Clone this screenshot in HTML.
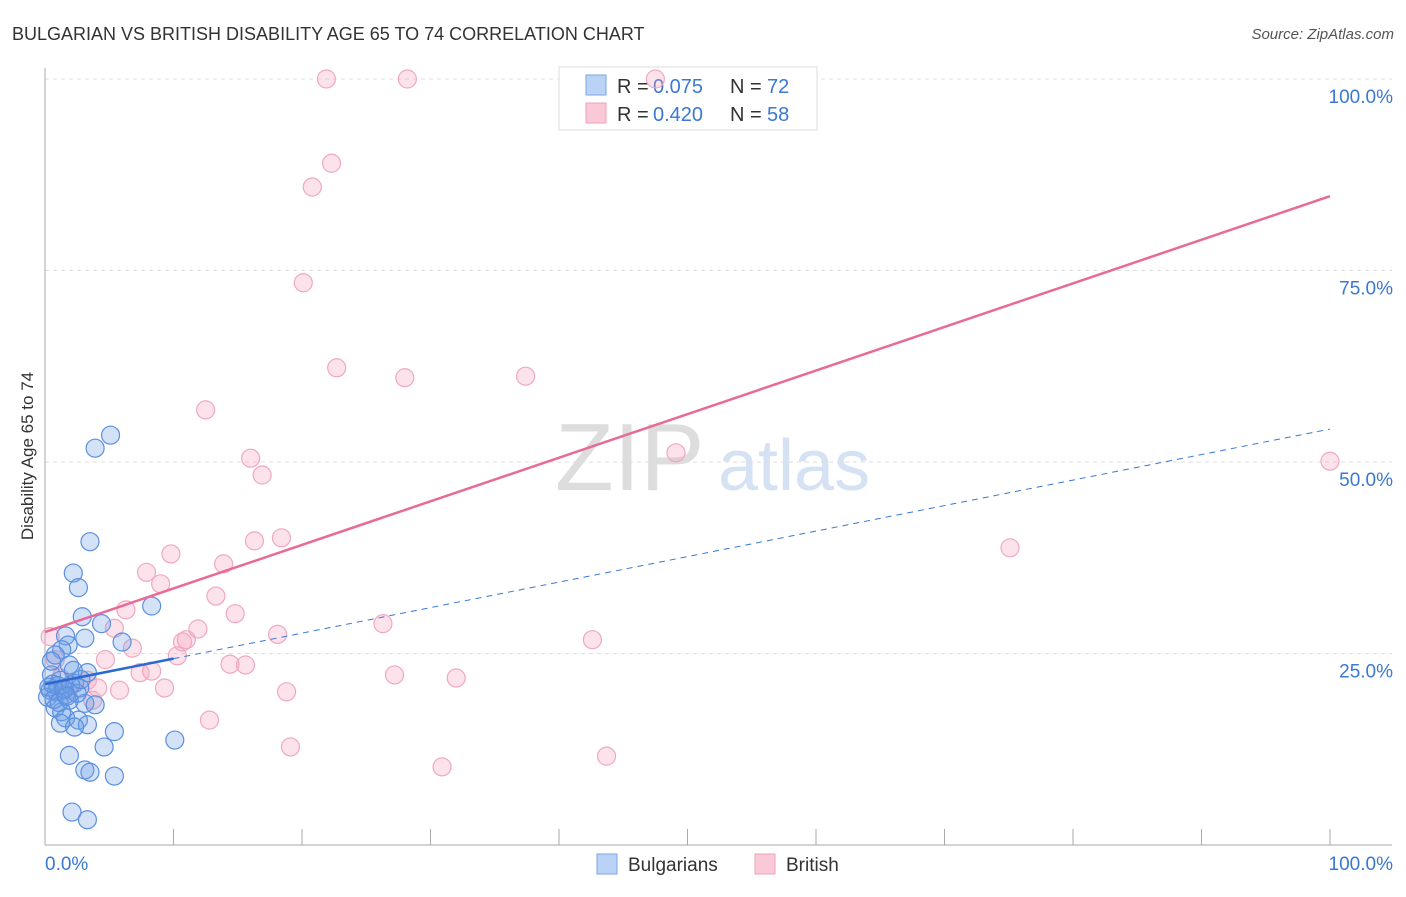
<!DOCTYPE html>
<html><head><meta charset="utf-8"><style>
body{margin:0;background:#fff;font-family:"Liberation Sans",sans-serif;}
svg text{font-family:"Liberation Sans",sans-serif;}
</style></head><body>
<svg id="c" width="1406" height="892">
<text x="12" y="40" font-size="18" fill="#333">BULGARIAN VS BRITISH DISABILITY AGE 65 TO 74 CORRELATION CHART</text>
<text x="1394" y="39" font-size="15" fill="#555" text-anchor="end" font-style="italic">Source: ZipAtlas.com</text>
<text transform="translate(33,456) rotate(-90)" font-size="17" fill="#333" text-anchor="middle">Disability Age 65 to 74</text>
<text x="555" y="490" font-size="96" fill="#ddd" font-family="Liberation Serif">ZIP</text>
<text x="718" y="490" font-size="72" fill="#d5e2f4">atlas</text>
<g id="grid"></g>
<g>
<rect x="559" y="67" width="258" height="63" fill="#fff" stroke="#ddd"/>
<rect x="586" y="75" width="20" height="20" fill="#b9d2f5" stroke="#7aa6e6"/>
<text x="617" y="93" font-size="20" fill="#333">R =</text>
<text x="653" y="93" font-size="20" fill="#3a78d4">0.075</text>
<text x="730" y="93" font-size="20" fill="#333">N =</text>
<text x="767" y="93" font-size="20" fill="#3a78d4">72</text>
<rect x="586" y="103" width="20" height="20" fill="#f9c9d8" stroke="#f0a0bb"/>
<text x="617" y="121" font-size="20" fill="#333">R =</text>
<text x="653" y="121" font-size="20" fill="#3a78d4">0.420</text>
<text x="730" y="121" font-size="20" fill="#333">N =</text>
<text x="767" y="121" font-size="20" fill="#3a78d4">58</text>
</g>
<g id="pts"></g><g id="lines"></g>
<g>
<rect x="597" y="854" width="20" height="20" fill="#b9d2f5" stroke="#7aa6e6"/>
<text x="628" y="871" font-size="19" fill="#333">Bulgarians</text>
<rect x="755" y="854" width="20" height="20" fill="#f9c9d8" stroke="#f0a0bb"/>
<text x="786" y="871" font-size="19" fill="#333">British</text>
</g>
</svg>
<script>
const blueX=[5.1,3.9,3.5,2.2,2.6,8.3,2.9,4.4,3.1,6,1.6,1.8,1.3,0.8,1.9,3.3,0.5,1.2,2.3,2.7,0.4,0.9,1.6,0.2,1.9,3.1,3.9,0.8,1.3,1.6,2.6,3.3,1.2,2.3,5.4,10.1,4.6,1.9,3.1,3.5,5.4,2.1,3.3,0.6,1.0,1.4,2.0,2.5,0.3,0.7,1.1,1.5,2.8,0.5,1.7,2.2];
const blueY=[53.5,51.8,39.6,35.5,33.6,31.2,29.8,28.9,27,26.5,27.3,26.1,25.5,24.8,23.5,22.5,22.2,21.5,21.1,20.5,20.2,20,19.6,19.3,18.9,18.5,18.3,17.9,17.4,16.6,16.3,15.7,15.9,15.4,14.8,13.7,12.8,11.7,9.8,9.5,9,4.3,3.3,21,20.8,20.4,20.9,19.8,20.6,19,18.6,20.3,21.6,24,19.4,22.8];
const pinkX=[21.9,28.2,47.5,22.3,20.8,20.1,22.7,28,37.4,12.5,16,16.9,49.1,100,75.1,18.4,16.3,9.8,13.9,7.9,9,13.3,14.8,6.3,5.4,26.3,42.6,18.1,11.9,11,10.7,6.8,0.4,10.3,4.7,14.4,15.6,8.3,7.4,27.2,32,9.3,4.1,5.8,18.8,3.3,1.2,3.7,12.8,19.1,30.9,43.7,0.8,1.8];
const pinkY=[100,100,100,89,85.9,73.4,62.3,61,61.2,56.8,50.5,48.3,51.2,50.1,38.8,40.1,39.7,38,36.7,35.6,34.1,32.5,30.2,30.7,28.3,28.9,26.8,27.5,28.2,26.8,26.5,25.7,27.2,24.7,24.2,23.6,23.5,22.7,22.5,22.2,21.8,20.5,20.5,20.2,20,21.5,21.8,18.9,16.3,12.8,10.2,11.6,24.2,20.2];
const yTicks=[100,75,50,25];
const pinkLine=[27.8,84.7];
const blueLine=[21,54.3];
const blueSolidEnd=10;
const NS="http://www.w3.org/2000/svg";
const X=v=>45+v*12.85, Y=v=>845-v*7.66;
function mk(t,a,p){const e=document.createElementNS(NS,t);for(const k in a)e.setAttribute(k,a[k]);p.appendChild(e);return e;}
const g=document.getElementById('grid');
yTicks.forEach(t=>{
 const l=mk('line',{x1:45,x2:1392,y1:Y(t),y2:Y(t),stroke:'#ddd','stroke-dasharray':'4,4'},g);
 
 
 const tx=mk('text',{x:1393,y:Y(t)+24,'font-size':19,fill:'#3a78d4','text-anchor':'end'},g);tx.textContent=t.toFixed(1)+'%';
 
 
});
mk('line',{x1:45,x2:45,y1:68,y2:845,stroke:'#aaa'},g);
mk('line',{x1:45,x2:1392,y1:845,y2:845,stroke:'#aaa'},g);
for(let i=1;i<=10;i++){const t=mk('line',{x1:X(i*10),x2:X(i*10),y1:829,y2:845,stroke:'#aaa'},g);
 
 }
const xl=mk('text',{x:45,y:870,'font-size':19,fill:'#3a78d4'},g);xl.textContent='0.0%';


const xr=mk('text',{x:1393,y:870,'font-size':19,fill:'#3a78d4','text-anchor':'end'},g);xr.textContent='100.0%';


const p=document.getElementById('pts');
pinkX.forEach((x,i)=>{const c=mk('circle',{cx:X(x),cy:Y(pinkY[i]),r:9,fill:'rgba(244,160,190,0.3)',stroke:'#f0a8c0','stroke-width':1.2},p);
 
 });
blueX.forEach((x,i)=>{const c=mk('circle',{cx:X(x),cy:Y(blueY[i]),r:9,fill:'rgba(110,160,230,0.3)',stroke:'#5a8fe0','stroke-width':1.2},p);
 
 });
const L=document.getElementById('lines');
const pl=mk('line',{x1:X(0),y1:Y(pinkLine[0]),x2:X(100),y2:Y(pinkLine[1]),stroke:'#e86a98','stroke-width':2.5},L);


const bAt=v=>blueLine[0]+(blueLine[1]-blueLine[0])*v/100;
const bd=mk('line',{x1:X(blueSolidEnd),y1:Y(bAt(blueSolidEnd)),x2:X(100),y2:Y(blueLine[1]),stroke:'#3a78d4','stroke-width':1,'stroke-dasharray':'6,5'},L);


const bs=mk('line',{x1:X(0),y1:Y(blueLine[0]),x2:X(blueSolidEnd),y2:Y(bAt(blueSolidEnd)),stroke:'#2a6ad0','stroke-width':2.5},L);


</script>
</body></html>
